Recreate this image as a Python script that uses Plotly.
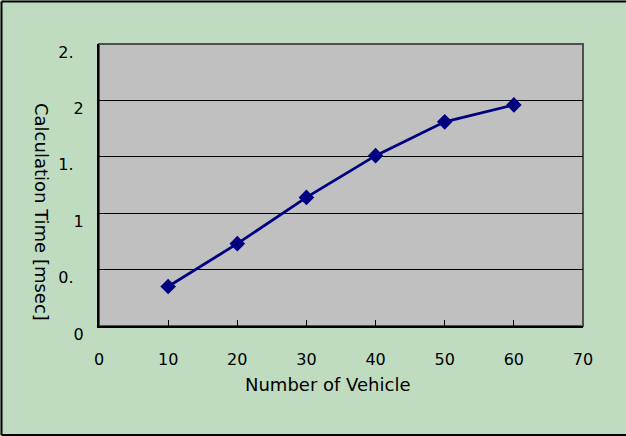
import plotly.graph_objects as go

# Calculation time versus number of vehicles
vehicles = [10, 20, 30, 40, 50, 60]
calc_time_ms = [0.35, 0.73, 1.14, 1.51, 1.81, 1.96]

x_ticks = [0, 10, 20, 30, 40, 50, 60, 70]
y_ticks = [0, 0.5, 1, 1.5, 2, 2.5]
y_tick_text = ["0", "0.\u2007", "1", "1.\u2007", "2", "2.\u2007"]

W, H = 626, 436
L, R, T, B = 99, 43, 44, 110
pw, ph = W - L - R, H - T - B


def px_x(p):
    return (p - L) / pw


def px_y(p):
    return (H - B - p) / ph


tick_font = dict(family="DejaVu Sans", size=16, color="#000000")
title_font = dict(family="DejaVu Sans", size=18, color="#000000")

fig = go.Figure()
fig.add_trace(go.Scatter(
    x=vehicles, y=calc_time_ms, mode="lines+markers",
    line=dict(color="#000080", width=2.8),
    marker=dict(symbol="diamond", size=12, color="#000080"),
    showlegend=False, cliponaxis=False,
))

fig.update_layout(
    width=W, height=H,
    margin=dict(l=L, r=R, t=T, b=B, pad=0),
    paper_bgcolor="#C0DCC0",
    plot_bgcolor="#C0C0C0",
    font=tick_font,
    xaxis=dict(
        range=[0, 70], tickvals=x_ticks, showgrid=False, zeroline=False,
        showline=True, linecolor="#000000", linewidth=2,
        ticks="inside", ticklen=6, tickcolor="#000000", tickwidth=1,
        ticklabelstandoff=18, tickfont=tick_font,
    ),
    yaxis=dict(
        range=[0, 2.5], tickvals=y_ticks, ticktext=y_tick_text,
        showgrid=True, gridcolor="#000000", gridwidth=1, zeroline=False,
        showline=True, linecolor="#000000", linewidth=2,
        ticks="", ticklabelstandoff=10, ticklabelshift=8, tickfont=tick_font,
    ),
    shapes=[
        # plot area frame (top/right edges in dark gray)
        dict(type="rect", xref="paper", yref="paper", x0=0, x1=1, y0=0, y1=1,
             line=dict(color="#505050", width=2), layer="below"),
        # outer chart border
        dict(type="line", xref="paper", yref="paper",
             x0=px_x(1.5), x1=px_x(1.5), y0=px_y(435), y1=px_y(1.5),
             line=dict(color="#000000", width=2)),
        dict(type="line", xref="paper", yref="paper",
             x0=px_x(1.5), x1=px_x(626), y0=px_y(1.5), y1=px_y(1.5),
             line=dict(color="#000000", width=2)),
        dict(type="line", xref="paper", yref="paper",
             x0=px_x(1.5), x1=px_x(626), y0=px_y(435), y1=px_y(435),
             line=dict(color="#000000", width=2)),
    ],
    annotations=[
        dict(text="Calculation Time [msec]", textangle=90, showarrow=False,
             xref="paper", yref="paper", x=px_x(42), y=px_y(212),
             xanchor="center", yanchor="middle", font=title_font),
        dict(text="Number of Vehicle", showarrow=False,
             xref="paper", yref="paper", x=px_x(327), y=px_y(384),
             xanchor="center", yanchor="middle", font=title_font),
    ],
)

fig.write_html("out.html")
